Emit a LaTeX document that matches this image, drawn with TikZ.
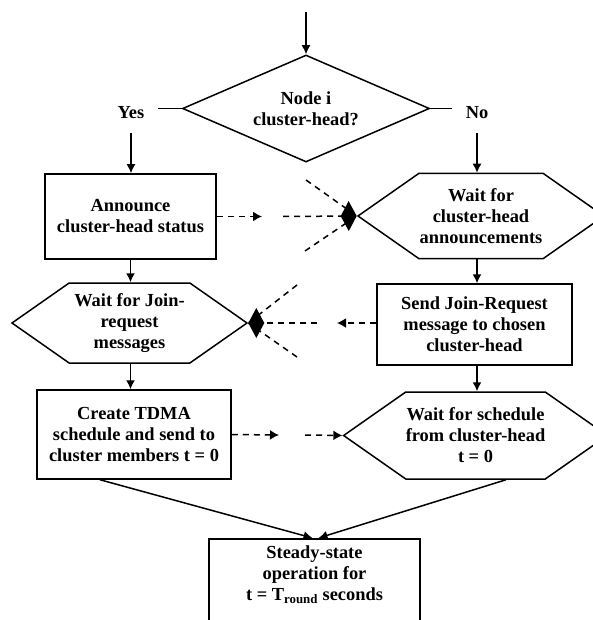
\documentclass[tikz,border=0pt]{standalone}
\usepackage{fontspec}
\setmainfont{Liberation Serif}
\usetikzlibrary{shapes.geometric, shapes.symbols, arrows.meta}

\begin{document}
\begin{tikzpicture}[x=1pt, y=-1pt,
  every node/.style={font=\fontsize{18.4}{21}\selectfont\bfseries, align=center},
  box/.style={draw, line width=1.5pt, inner sep=0pt},
  hexa/.style={draw, line width=1.5pt, shape=signal, signal to=east and west, signal pointer angle=70, inner sep=0pt},
  decide/.style={draw, line width=1.5pt, diamond, aspect=2.3, inner sep=0pt},
  answer/.style={inner xsep=14pt, inner ysep=14pt},
  arr/.style={line width=1.5pt, -{Latex[length=9pt,width=9pt]}},
  radio/.style={line width=1.5pt, dash pattern=on 6pt off 5pt, -{Latex[length=9pt,width=10pt]}},
  merge/.style={line width=1.5pt, dash pattern=on 6pt off 5pt, -{Diamond[length=16pt,width=30pt]}},
  lash/.style={line width=1.5pt, dash pattern=on 6pt off 5pt}
]
  \useasboundingbox (0,0) rectangle (592,620);

  \node[decide, minimum width=247pt, minimum height=107pt] (chq) at (306,108.5) {Node i\\cluster-head?};
  \node[answer] (yes) at (131,112.5) {Yes};
  \node[answer] (no) at (477,112.5) {No};
  \node[box, minimum width=171pt, minimum height=85pt] (ann) at (130.5,216.5) {Announce\\cluster-head status};
  \node[hexa, minimum width=246pt, minimum height=85pt] (wca) at (481,216) {Wait for\\cluster-head\\announcements};
  \node[hexa, minimum width=235pt, minimum height=80pt] (wjr) at (129.5,323) {Wait for Join-\\request\\messages};
  \node[box, minimum width=195pt, minimum height=81pt] (sjr) at (474.5,324.5) {Send Join-Request\\message to chosen\\cluster-head};
  \node[box, minimum width=194pt, minimum height=89pt] (tdma) at (134,434.5) {Create TDMA\\schedule and send to\\cluster members t = 0};
  \node[hexa, minimum width=253pt, minimum height=87pt] (wsc) at (475.5,435.5) {Wait for schedule\\from cluster-head\\t = 0};
  \node[box, anchor=north, minimum width=211pt, inner ysep=7pt, text depth=70pt] (ss) at (314.5,538) {Steady-state\\operation for\\t = T\textsubscript{round} seconds};

  \coordinate (start) at (306,12);
  \draw[arr] (start) -- (chq.north);
  \draw[line width=1.5pt] (chq.west) -- (chq.west -| yes.east);
  \draw[line width=1.5pt] (chq.east) -- (chq.east -| no.west);
  \draw[arr] (yes.south) -- (yes.south |- ann.north);
  \draw[arr] (no.south) -- (no.south |- wca.north);
  \draw[arr] (ann.south) -- (ann.south |- wjr.north);
  \draw[arr] (no.south |- wca.south) -- (no.south |- sjr.north);
  \draw[arr] (ann.south |- wjr.south) -- (ann.south |- tdma.north);
  \draw[arr] (no.south |- sjr.south) -- (no.south |- wsc.north);
  \draw[arr] ([xshift=-34pt]tdma.south) -- ([xshift=-2pt]ss.north);
  \draw[arr] ([xshift=30.5pt]wsc.south) -- ([xshift=4pt]ss.north);

  \coordinate (annGap) at (262,216.5);
  \coordinate (annGo) at (283,216.5);
  \coordinate (annUp) at (306,180);
  \coordinate (annDn) at (305,251);
  \draw[radio] (ann.east) -- (annGap);
  \draw[merge] (annGo) -- (wca.west);
  \draw[lash] (annUp) -- (wca.west);
  \draw[lash] (annDn) -- (wca.west);

  \coordinate (sjrGap) at (337,323);
  \coordinate (sjrGo) at (317,323);
  \coordinate (sjrUp) at (297,285);
  \coordinate (sjrDn) at (297,357);
  \draw[radio] (sjr.west |- wjr.east) -- (sjrGap);
  \draw[merge] (sjrGo) -- (wjr.east);
  \draw[lash] (sjrUp) -- (wjr.east);
  \draw[lash] (sjrDn) -- (wjr.east);

  \coordinate (tdmaGap) at (279,435);
  \coordinate (tdmaGo) at (305,435);
  \draw[radio] (tdma.east) -- (tdmaGap);
  \draw[radio] (tdmaGo) -- (wsc.west);
\end{tikzpicture}
\end{document}
